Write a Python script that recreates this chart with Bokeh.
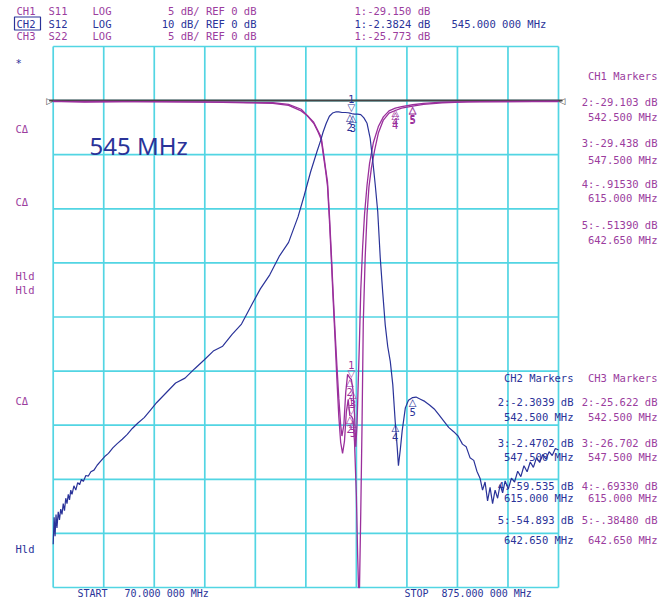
from bokeh.plotting import figure
from bokeh.models import Range1d
from bokeh.embed import file_html
from bokeh.resources import INLINE
from bokeh.core.properties import value

# ---------------- data ----------------
START_MHZ = 70.0
STOP_MHZ = 875.0
REF_DB = 0.0
CH1_DB_PER_DIV = 5.0
CH2_DB_PER_DIV = 10.0
CH3_DB_PER_DIV = 5.0
N_DIV = 10
REF_DIV_FROM_TOP = 1

# CH2  S12 (blue)
s12_freq = [70, 71.5, 73, 74.5, 76, 78, 80, 82, 84, 86, 88, 90, 92, 94, 96, 98, 100, 103, 106, 109,
            112, 115, 118, 122, 126, 130, 135, 140, 146, 152, 158, 165, 172, 180, 188, 196, 205, 215,
            225, 235, 250, 265, 280, 295, 310, 325, 340, 355, 370, 385, 400, 415, 430, 445, 460, 470,
            480, 490, 496, 500, 505, 510, 515, 520, 525, 530, 535, 540, 542.5, 545, 547.5, 550, 555,
            560, 565, 570, 575, 579, 583, 587, 591, 595, 599, 603, 607, 611, 615, 618, 620, 623, 626,
            631, 636, 642.65, 648, 655, 662, 670, 677, 684, 692, 700, 708, 715, 722, 728, 734, 740,
            745, 750, 754, 758, 762, 766, 770, 774, 778, 782, 786, 790, 795, 800, 805, 810, 815, 820,
            825, 830, 835, 840, 845, 850, 855, 860, 865, 870, 875]
s12_db = [-82.0, -77.0, -80.5, -76.5, -79.0, -76.0, -77.5, -75.5, -76.5, -74.5, -75.8, -73.5, -74.5,
          -72.8, -73.8, -72.0, -72.8, -71.2, -72.0, -70.6, -71.0, -70.0, -70.4, -69.3, -69.4, -68.6,
          -68.3, -67.4, -66.6, -65.8, -65.2, -64.2, -63.4, -62.6, -61.7, -60.6, -59.6, -58.6, -57.2,
          -55.8, -54.0, -52.2, -51.3, -49.6, -48.0, -46.3, -45.4, -43.2, -41.3, -38.0, -34.8, -32.2,
          -28.8, -26.2, -21.5, -17.5, -13.2, -9.5, -7.4, -5.8, -4.2, -2.9, -2.3, -2.1, -2.1, -2.2,
          -2.2, -2.25, -2.3039, -2.3824, -2.4702, -2.5, -2.5, -2.6, -3.2, -4.2, -7.0, -11.0, -15.5,
          -20.5, -29.0, -35.5, -41.5, -45.5, -48.2, -52.5, -59.535, -64.0, -67.5, -64.5, -61.0, -56.8,
          -55.4, -54.893, -54.8, -55.2, -55.6, -56.3, -57.0, -58.0, -59.2, -60.4, -61.2, -62.0, -63.5,
          -64.0, -66.0, -66.5, -68.5, -69.8, -72.0, -70.5, -74.0, -71.5, -74.5, -72.0, -73.5, -71.0,
          -72.5, -70.3, -71.8, -69.8, -70.5, -68.5, -69.5, -67.5, -68.6, -66.8, -67.8, -66.0, -66.9,
          -65.4, -66.3, -64.9, -65.6, -64.3, -64.6]

# CH1  S11 (magenta)
s11_freq = [70, 120, 180, 250, 320, 380, 420, 445, 465, 475, 485, 492, 497, 501, 504, 507, 510, 513,
            516, 519, 522, 525, 528, 531, 534, 537, 540, 542.5, 545, 547.5, 550, 553, 555, 556.5, 558,
            560, 562, 564, 567, 570, 573, 577, 582, 588, 596, 605, 615, 625, 642.65, 660, 690, 730,
            800, 875]
s11_db = [-0.05, -0.15, -0.1, -0.1, -0.15, -0.2, -0.25, -0.45, -0.95, -1.4, -2.1, -2.9, -3.6, -5.3,
          -6.5, -7.9, -11.0, -14.6, -18.4, -22.0, -25.8, -29.2, -31.6, -32.6, -31.5, -28.8, -27.6,
          -29.103, -29.15, -29.438, -31.5, -36.5, -42.0, -45.0, -45.0, -38.0, -30.0, -20.5, -14.5,
          -10.5, -8.0, -6.2, -4.6, -3.0, -1.8, -1.15, -0.9153, -0.7, -0.5139, -0.35, -0.2, -0.12,
          -0.1, -0.1]

# CH3  S22 (magenta)
s22_freq = [70, 150, 250, 350, 420, 445, 465, 485, 497, 501, 504, 507, 510, 513, 516, 519, 522, 525,
            528, 530, 533, 536, 539, 542.5, 545, 547.5, 550, 552, 554, 556, 558, 560, 563, 566, 570,
            574, 580, 588, 596, 605, 615, 625, 642.65, 660, 690, 750, 875]
s22_db = [-0.1, -0.08, -0.12, -0.15, -0.2, -0.35, -0.8, -2.0, -3.4, -5.0, -6.3, -7.5, -10.5, -14.0,
          -17.8, -21.3, -24.5, -27.5, -30.0, -31.0, -30.0, -27.0, -25.3, -25.622, -25.773, -26.702,
          -29.0, -32.0, -30.0, -26.0, -22.0, -17.5, -13.5, -10.5, -7.8, -5.8, -3.9, -2.4, -1.5, -0.95,
          -0.6933, -0.55, -0.3848, -0.25, -0.15, -0.1, -0.05]

marker_freq = [545.0, 542.5, 547.5, 615.0, 642.65]
marker_ids = ["1", "2", "3", "4", "5"]
ch1_marker_db = [-29.150, -29.103, -29.438, -0.91530, -0.51390]
ch2_marker_db = [-2.3824, -2.3039, -2.4702, -59.535, -54.893]
ch3_marker_db = [-25.773, -25.622, -26.702, -0.69330, -0.38480]

ch1_marker_text = ["2:-29.103 dB", "542.500 MHz", "3:-29.438 dB", "547.500 MHz",
                   "4:-.91530 dB", "615.000 MHz", "5:-.51390 dB", "642.650 MHz"]
ch2_marker_text = ["2:-2.3039 dB", "542.500 MHz", "3:-2.4702 dB", "547.500 MHz",
                   "4:-59.535 dB", "615.000 MHz", "5:-54.893 dB", "642.650 MHz"]
ch3_marker_text = ["2:-25.622 dB", "542.500 MHz", "3:-26.702 dB", "547.500 MHz",
                   "4:-.69330 dB", "615.000 MHz", "5:-.38480 dB", "642.650 MHz"]

# ---------------- style / layout ----------------
GRID = "#52d5e3"
BLUE = "#2a3399"
MAG = "#9a2f9c"
MAGT = "#9b3d9e"
REFC = "#454545"
MONO = "DejaVu Sans Mono"

W, H = 658, 600
PX0, PY0 = 0, 0
GX0, GX1, GY0, GY1 = 52.7, 558.0, 46.0, 587.0

mhz_per_px = (STOP_MHZ - START_MHZ) / (GX1 - GX0)
x_lo = START_MHZ - (GX0 - PX0) * mhz_per_px
x_hi = STOP_MHZ + (PX0 + W - GX1) * mhz_per_px


def db_range(div):
    top = REF_DB + REF_DIV_FROM_TOP * div
    bot = top - N_DIV * div
    dpp = N_DIV * div / (GY1 - GY0)
    return Range1d(bot - (PY0 + H - GY1) * dpp, top + (GY0 - PY0) * dpp), top, bot


r1, top1, bot1 = db_range(CH1_DB_PER_DIV)
r2, top2, bot2 = db_range(CH2_DB_PER_DIV)

p = figure(width=W, height=H, x_range=Range1d(x_lo, x_hi), y_range=r1,
           output_backend="svg", toolbar_location=None, x_axis_type=None,
           y_axis_type=None, min_border=0, title=None)
p.outline_line_color = None
p.background_fill_color = "white"
p.border_fill_color = "white"
p.extra_y_ranges = {"ch2": r2, "py": Range1d(PY0 + H, PY0)}
p.extra_x_ranges = {"px": Range1d(PX0, PX0 + W)}

# grid
vx = [START_MHZ + k * (STOP_MHZ - START_MHZ) / N_DIV for k in range(N_DIV + 1)]
p.segment(x0=vx, y0=[bot1] * len(vx), x1=vx, y1=[top1] * len(vx), line_color=GRID, line_width=1.7)
hy = [top1 - k * CH1_DB_PER_DIV for k in range(N_DIV + 1)]
p.segment(x0=[START_MHZ] * len(hy), y0=hy, x1=[STOP_MHZ] * len(hy), y1=hy, line_color=GRID, line_width=1.7)

# reference line + end triangles
p.line(x=[START_MHZ - 4 * mhz_per_px, STOP_MHZ + 4 * mhz_per_px], y=[REF_DB, REF_DB],
       line_color=REFC, line_width=2)
p.text(x=[START_MHZ], y=[REF_DB], text=["\u25b7"], text_align="right", text_baseline="middle",
       text_color=REFC, text_font_size="9px", text_font=value("DejaVu Sans"))
p.text(x=[STOP_MHZ], y=[REF_DB], text=["\u25c1"], text_align="left", text_baseline="middle",
       text_color=REFC, text_font_size="9px", text_font=value("DejaVu Sans"))

# traces
p.line(s11_freq, s11_db, line_color=MAG, line_width=1.3)
p.line(s22_freq, s22_db, line_color=MAG, line_width=1.3)
p.line(s12_freq, s12_db, line_color=BLUE, line_width=1.2, y_range_name="ch2")


def markers(dbs, color, rname="default"):
    kw = dict(text_align="center", text_color=color, text_font=value("DejaVu Sans"))
    if rname != "default":
        kw["y_range_name"] = rname
    p.text(x=marker_freq[:1], y=dbs[:1], text=["\u25bd"], text_baseline="bottom",
           text_font_size="10px", **kw)
    p.text(x=marker_freq[:1], y=dbs[:1], text=marker_ids[:1], text_baseline="bottom",
           y_offset=-10, text_font_size="10px", **kw)
    p.text(x=marker_freq[1:], y=dbs[1:], text=["\u25b3"] * 4, text_baseline="top",
           y_offset=-1, text_font_size="10px", **kw)
    p.text(x=marker_freq[1:], y=dbs[1:], text=marker_ids[1:], text_baseline="top",
           y_offset=10, text_font_size="10px", **kw)


markers(ch1_marker_db, MAG)
markers(ch3_marker_db, MAG)
markers(ch2_marker_db, BLUE, "ch2")


def txt(xs, ys, ss, color, align="left", size="10.5px", font=MONO):
    p.text(x=xs, y=ys, text=ss, x_range_name="px", y_range_name="py", text_color=color,
           text_align=align, text_baseline="middle", text_font=value(font), text_font_size=size)


# header
txt([16, 48, 92, 354], [10] * 4, ["CH1", "S11", "LOG", "1:-29.150 dB"], MAGT)
txt([256], [10], ["5 dB/ REF 0 dB"], MAGT, "right")
txt([16, 48, 92, 354, 451], [23] * 5, ["CH2", "S12", "LOG", "1:-2.3824 dB", "545.000 000 MHz"], BLUE)
txt([256], [23], ["10 dB/ REF 0 dB"], BLUE, "right")
txt([16, 48, 92, 354], [35] * 4, ["CH3", "S22", "LOG", "1:-25.773 dB"], MAGT)
txt([256], [35], ["5 dB/ REF 0 dB"], MAGT, "right")
p.quad(left=[14], right=[40], top=[16.5], bottom=[29.5], x_range_name="px", y_range_name="py",
       fill_color=None, line_color=BLUE, line_width=1.2)

# left status labels
txt([15], [62], ["*"], BLUE)
txt([15, 15, 15, 15, 15], [128, 201, 275, 289, 400], ["C\u0394", "C\u0394", "Hld", "Hld", "C\u0394"], MAGT)
txt([15], [548], ["Hld"], BLUE)

# big annotation
txt([89], [145], ["545 MHz"], BLUE, size="24px", font="Noto Sans")

# marker tables
txt([657], [75], ["CH1 Markers"], MAGT, "right")
txt([657] * 8, [101, 116, 142, 159, 183, 197, 224, 239], ch1_marker_text, MAGT, "right")
txt([573], [377], ["CH2 Markers"], BLUE, "right")
txt([573] * 8, [401, 416, 442, 456, 485, 497, 519, 539], ch2_marker_text, BLUE, "right")
txt([657], [377], ["CH3 Markers"], MAGT, "right")
txt([657] * 8, [401, 416, 442, 456, 485, 497, 519, 539], ch3_marker_text, MAGT, "right")

# footer
txt([77, 124], [593, 593], ["START", "70.000 000 MHz"], BLUE, size="10px")
txt([404, 441], [593, 593], ["STOP", "875.000 000 MHz"], BLUE, size="10px")

open("out.html", "w").write(file_html(p, INLINE))
